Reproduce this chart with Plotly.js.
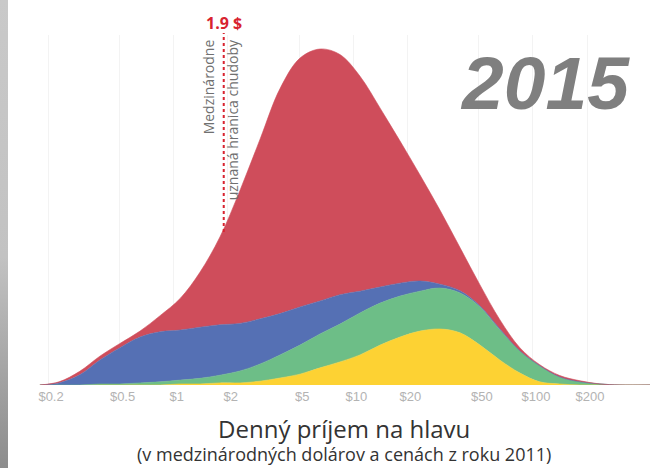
<!DOCTYPE html>
<html>
<head>
<meta charset="utf-8">
<script src="https://cdn.plot.ly/plotly-3.0.1.min.js"></script>
<style>
  html, body { margin: 0; padding: 0; background: #ffffff; }
  #chart { width: 653px; height: 468px; position: relative; }
  #strip { position: absolute; left: 0; top: 0; width: 8px; height: 468px;
           background: linear-gradient(to bottom, #c9c9c9 0%, #c2c2c2 55%, #8c8c8c 100%); z-index: 10; }
</style>
</head>
<body>
<div id="strip"></div>
<div id="chart"></div>
<script>
// Daily income per person (international $, 2011 prices) – sample points along the log axis
const incomes = [0.18, 0.23, 0.3, 0.39, 0.5, 0.65, 0.84, 1.09, 1.4, 1.81, 2.34, 3.03, 3.91, 5.05, 6.53, 8.43, 10.9, 14.1, 18.2, 23.5, 30.4, 39.3, 50.7, 65.5, 84.7, 109, 141, 183, 236, 305, 448];

// Stacked population density per region (arbitrary units)
const yellowSeries = [0, 0, 0, 0, 0, 0, 0, 0.3, 0.3, 0.6, 0.6, 1.1, 2, 3.1, 4.9, 6.6, 8.6, 11.4, 13.7, 15.4, 16, 14.9, 11.4, 7.1, 3.4, 0.9, 0.3, 0, 0, 0, 0];
const greenSeries  = [0, 0, 0, 0.3, 0.3, 0.6, 0.9, 1.1, 1.6, 2.2, 3.4, 4.9, 6.6, 8.3, 9.7, 10.8, 12.0, 12, 11.7, 11.4, 11.7, 11.4, 10.9, 8.6, 6.3, 4.6, 2, 0.9, 0.3, 0, 0];
const blueSeries   = [0, 0.6, 2.9, 6.9, 10.3, 13.1, 14.3, 14.3, 14.6, 14.4, 13.6, 12.9, 11.8, 10.9, 9.4, 8.4, 6.2, 4.6, 3.7, 2.9, 1.1, 0.6, 0.3, 0.3, 0, 0, 0, 0, 0, 0, 0];
const redSeries    = [0, 0.3, 1.0, 1.1, 1.2, 1.7, 4.6, 9.1, 15.7, 25.1, 38, 51.4, 64.3, 71.1, 72, 68.6, 61.4, 51.1, 40.6, 30.3, 21.1, 12.3, 6, 2.6, 0.9, 0.3, 0.4, 0.3, 0, 0, 0];

const tickValues = [0.2, 0.5, 1, 2, 5, 10, 20, 50, 100, 200];
const tickLabels = ['$0.2', '$0.5', '$1', '$2', '$5', '$10', '$20', '$50', '$100', '$200'];

const povertyLine = 1.9;
const povertyLabel = '1.9 $';
const povertyText1 = 'Medzinárodne';
const povertyText2 = 'uznaná hranica chudoby';
const yearLabel = '2015';
const axisTitle1 = 'Denný príjem na hlavu';
const axisTitle2 = '(v medzinárodných dolárov a cenách z roku 2011)';

const xRange = [-0.922, 2.668];
const povX = (Math.log10(povertyLine) - xRange[0]) / (xRange[1] - xRange[0]);

function layer(y, color) {
  return {
    x: incomes, y: y, type: 'scatter', mode: 'lines', stackgroup: 'one',
    line: { shape: 'spline', smoothing: 1, width: 0.6, color: color },
    fillcolor: color, hoverinfo: 'skip'
  };
}

const data = [
  layer(yellowSeries, '#fdd233'),
  layer(greenSeries, '#6dbe87'),
  layer(blueSeries, '#5570b4'),
  layer(redSeries, '#cf4d5b')
];

const layout = {
  width: 653, height: 468,
  margin: { l: 8, r: 0, t: 35, b: 83 },
  paper_bgcolor: '#ffffff', plot_bgcolor: '#ffffff',
  showlegend: false,
  xaxis: {
    type: 'log', range: xRange,
    tickmode: 'array', tickvals: tickValues, ticktext: tickLabels,
    showgrid: true, gridcolor: '#f3f3f3', gridwidth: 1,
    zeroline: false, showline: false, ticks: '',
    tickfont: { family: 'Liberation Sans, Arial, sans-serif', size: 13, color: '#b3b3b3' },
    ticklabelshift: 3, ticklabelstandoff: 2
  },
  yaxis: { range: [0, 100], visible: false, fixedrange: true },
  shapes: [
    { type: 'line', xref: 'paper', yref: 'paper', x0: povX, x1: povX, y0: 0.437, y1: 1.006,
      line: { color: '#d8232f', width: 2, dash: 'dot' } }
  ],
  annotations: [
    { xref: 'paper', yref: 'paper', x: povX, y: 1.034, text: '<b>' + povertyLabel + '</b>', showarrow: false,
      xanchor: 'center', yanchor: 'middle', font: { family: 'Open Sans, sans-serif', size: 16, color: '#d8232f' } },
    { xref: 'paper', yref: 'paper', x: povX, xshift: -15, y: 0.994, text: povertyText1, showarrow: false,
      textangle: -90, xanchor: 'center', yanchor: 'top', font: { family: 'Open Sans, sans-serif', size: 14, color: '#707070' } },
    { xref: 'paper', yref: 'paper', x: povX, xshift: 9, y: 0.994, text: povertyText2, showarrow: false,
      textangle: -90, xanchor: 'center', yanchor: 'top', font: { family: 'Open Sans, sans-serif', size: 14, color: '#707070' } },
    { xref: 'paper', yref: 'paper', x: 0.833, y: 0.863, text: yearLabel, showarrow: false,
      xanchor: 'center', yanchor: 'middle',
      font: { family: 'Liberation Sans, Arial, sans-serif', size: 75, color: '#7f7f7f', weight: 'bold', style: 'italic' } },
    { xref: 'paper', yref: 'paper', x: 0.521, y: -0.153, align: 'center',
      text: '<span style="font-size:24px">' + axisTitle1 + '</span><br>' + axisTitle2, showarrow: false,
      xanchor: 'center', yanchor: 'middle', font: { family: 'Open Sans, sans-serif', size: 18, color: '#333333' } }
  ]
};

Plotly.newPlot('chart', data, layout, { staticPlot: true, displayModeBar: false });
</script>
</body>
</html>
